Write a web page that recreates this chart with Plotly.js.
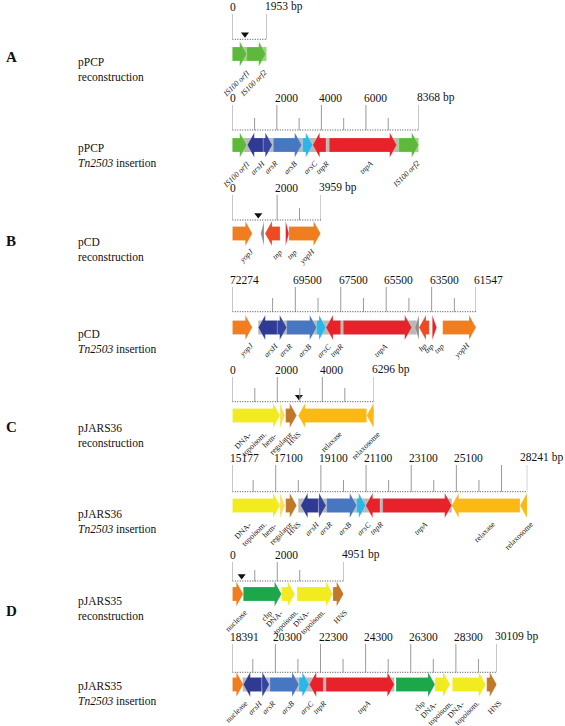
<!DOCTYPE html>
<html><head><meta charset="utf-8">
<script src="https://cdn.plot.ly/plotly-3.0.1.min.js"></script>
<style>html,body{margin:0;padding:0;background:#fff}</style>
</head><body><div id="chart" style="width:565px;height:726px"></div>
<script>
// ================= DATA =================
// Each gene: start -> end (arrow head at end), in bp of its own map.
// --- A: pPCP reconstruction ---
const pPCPrecNames  = ['IS100 orf1','IS100 orf2'];
const pPCPrecLabels = ['IS100 orf1','IS100 orf2'];
const pPCPrecStart  = [0, 820];
const pPCPrecEnd    = [820, 1900];
const pPCPrecBgStart = [0]; const pPCPrecBgEnd = [1953]; const pPCPrecBgKind = ['is'];
const pPCPrecTicks = [0, 1953]; const pPCPrecTickLabels = ['0', '1953 bp']; const pPCPrecMinor = [];
const pPCPrecInsert = [720];
// --- A: pPCP Tn2503 insertion ---
const pPCPinsNames  = ['IS100 orf1','arsH','arsR','arsB','arsC','tnpR','tnpA','IS100 orf2'];
const pPCPinsLabels = ['IS100 orf1','arsH','arsR','arsB','arsC','tnpR','tnpA','IS100 orf2'];
const pPCPinsStart  = [0, 1391, 1391, 1840, 3160, 4205, 4355, 7480];
const pPCPinsEnd    = [650, 673, 1795, 3115, 3610, 3610, 7380, 8368];
const pPCPinsBgStart = [0, 580, 7440]; const pPCPinsBgEnd = [660, 7525, 8368]; const pPCPinsBgKind = ['is','tn','is'];
const pPCPinsTicks = [0, 2000, 4000, 6000, 8368]; const pPCPinsTickLabels = ['0','2000','4000','6000','8368 bp'];
const pPCPinsMinor = [1000, 3000, 5000, 7000];
const pPCPinsInsert = [];
// --- B: pCD reconstruction ---
const pCDrecNames  = ['yopJ','hp','tnp','tnp','yopH'];
const pCDrecLabels = ['yopJ','','tnp','tnp','yopH'];
const pCDrecStart  = [0, 1415, 2130, 2380, 2530];
const pCDrecEnd    = [893, 1270, 1460, 2530, 3940];
const pCDrecBgStart = []; const pCDrecBgEnd = []; const pCDrecBgKind = [];
const pCDrecTicks = [0, 2000, 3959]; const pCDrecTickLabels = ['0','2000','3959 bp']; const pCDrecMinor = [3000];
const pCDrecInsert = [1160];
// --- B: pCD Tn2503 insertion (coordinates run downwards) ---
const pCDinsNames  = ['yopJ','arsH','arsR','arsB','arsC','tnpR','tnpA','hp','tnp','tnp','yopH'];
const pCDinsLabels = ['yopJ','arsH','arsR','arsB','arsC','tnpR','tnpA','hp','tnp','tnp','yopH'];
const pCDinsStart  = [72274, 70293, 70293, 69880, 68560, 67503, 67388, 64057, 63604, 63471, 63014];
const pCDinsEnd    = [71394, 71130, 69880, 68560, 68150, 68150, 64378, 64233, 64057, 63278, 61547];
const pCDinsBgStart = [71130]; const pCDinsBgEnd = [64158]; const pCDinsBgKind = ['tn'];
const pCDinsTicks = [72274, 69500, 67500, 65500, 63500, 61547];
const pCDinsTickLabels = ['72274','69500','67500','65500','63500','61547'];
const pCDinsMinor = [70500, 68500, 66500, 64500, 62500];
const pCDinsInsert = [];
// --- C: pJARS36 reconstruction ---
const pJ36recNames  = ['DNA-topoisom.','hem-regulator','HNS','relaxase','relaxosome'];
const pJ36recLabels = ['DNA-<br>topoisom.','hem-<br>regulator','HNS','relaxase','relaxosome'];
const pJ36recStart  = [0, 2120, 2370, 5970, 6296];
const pJ36recEnd    = [2120, 2340, 2860, 2930, 5970];
const pJ36recBgStart = []; const pJ36recBgEnd = []; const pJ36recBgKind = [];
const pJ36recTicks = [0, 2000, 4000, 6296]; const pJ36recTickLabels = ['0','2000','4000','6296 bp'];
const pJ36recMinor = [1000, 3000, 5000];
const pJ36recInsert = [2960];
// --- C: pJARS36 Tn2503 insertion ---
const pJ36insNames  = ['DNA-topoisom.','hem-regulator','HNS','arsH','arsR','arsB','arsC','tnpR','tnpA','relaxase','relaxosome'];
const pJ36insLabels = ['DNA-<br>topoisom.','hem-<br>regulator','HNS','arsH','arsR','arsB','arsC','tnpR','tnpA','relaxase','relaxosome'];
const pJ36insStart  = [15177, 17290, 17542, 18986, 18986, 19357, 20686, 21718, 21838, 27918, 28241];
const pJ36insEnd    = [17290, 17511, 18029, 18206, 19327, 20686, 21085, 21085, 24894, 24894, 27918];
const pJ36insBgStart = [18100]; const pJ36insBgEnd = [24894]; const pJ36insBgKind = ['tn'];
const pJ36insTicks = [15177, 17100, 19100, 21100, 23100, 25100, 27100, 28241];
const pJ36insTickLabels = ['15177','17100','19100','21100','23100','25100','','28241 bp'];
const pJ36insMinor = [16100, 18100, 20100, 22100, 24100, 26100];
const pJ36insInsert = [];
// --- D: pJARS35 reconstruction ---
const pJ35recNames  = ['nuclease','chp','DNA-topoisom.','DNA-topoisom.','HNS'];
const pJ35recLabels = ['nuclease','chp','DNA-<br>topoisom.','DNA-<br>topoisom.','HNS'];
const pJ35recStart  = [0, 488, 2190, 2880, 4477];
const pJ35recEnd    = [488, 2190, 2780, 4477, 4951];
const pJ35recBgStart = []; const pJ35recBgEnd = []; const pJ35recBgKind = [];
const pJ35recTicks = [0, 2000, 4951]; const pJ35recTickLabels = ['0','2000','4951 bp']; const pJ35recMinor = [1000, 3000];
const pJ35recInsert = [417];
// --- D: pJARS35 Tn2503 insertion ---
const pJ35insNames  = ['nuclease','arsH','arsR','arsB','arsC','tnpR','tnpA','chp','DNA-topoisom.','DNA-topoisom.','HNS'];
const pJ35insLabels = ['nuclease','arsH','arsR','arsB','arsC','tnpR','tnpA','chp','DNA-<br>topoisom.','DNA-<br>topoisom.','HNS'];
const pJ35insStart  = [18391, 19694, 19694, 20062, 21348, 22425, 22545, 25647, 27376, 28143, 29667];
const pJ35insEnd    = [18879, 18879, 20031, 21348, 21804, 21804, 25572, 27376, 28041, 29623, 30109];
const pJ35insBgStart = [18852]; const pJ35insBgEnd = [25572]; const pJ35insBgKind = ['tn'];
const pJ35insTicks = [18391, 20300, 22300, 24300, 26300, 28300, 30109];
const pJ35insTickLabels = ['18391','20300','22300','24300','26300','28300','30109 bp'];
const pJ35insMinor = [19300, 21300, 23300, 25300, 27300, 29300];
const pJ35insInsert = [];

const panelLetters = ['A','B','C','D'];
const trackTitles = ['pPCP<br>reconstruction','pPCP<br><i>Tn2503</i> insertion',
  'pCD<br>reconstruction','pCD<br><i>Tn2503</i> insertion',
  'pJARS36<br>reconstruction','pJARS36<br><i>Tn2503</i> insertion',
  'pJARS35<br>reconstruction','pJARS35<br><i>Tn2503</i> insertion'];

// ================= LAYOUT / STYLE =================
const W = 565, H = 726;
const FONTNAME = 'Liberation Serif';
const SERIF = '"Liberation Serif","Times New Roman",serif';
const tracks = [
  {names:pPCPrecNames,labels:pPCPrecLabels,start:pPCPrecStart,end:pPCPrecEnd,bgS:pPCPrecBgStart,bgE:pPCPrecBgEnd,bgK:pPCPrecBgKind,ticks:pPCPrecTicks,tl:pPCPrecTickLabels,minor:pPCPrecMinor,ins:pPCPrecInsert,
   range:[0,1953], px:[232.3,266.7], top:14, mtop:null, base:39.3, gc:54, ty:69},
  {names:pPCPinsNames,labels:pPCPinsLabels,start:pPCPinsStart,end:pPCPinsEnd,bgS:pPCPinsBgStart,bgE:pPCPinsBgEnd,bgK:pPCPinsBgKind,ticks:pPCPinsTicks,tl:pPCPinsTickLabels,minor:pPCPinsMinor,ins:pPCPinsInsert,
   range:[0,8368], px:[232.3,418.7], top:105, mtop:118, base:130, gc:145, ty:155},
  {names:pCDrecNames,labels:pCDrecLabels,start:pCDrecStart,end:pCDrecEnd,bgS:pCDrecBgStart,bgE:pCDrecBgEnd,bgK:pCDrecBgKind,ticks:pCDrecTicks,tl:pCDrecTickLabels,minor:pCDrecMinor,ins:pCDrecInsert,
   range:[0,3959], px:[232.3,321], top:195, mtop:208, base:220, gc:233.5, ty:249},
  {names:pCDinsNames,labels:pCDinsLabels,start:pCDinsStart,end:pCDinsEnd,bgS:pCDinsBgStart,bgE:pCDinsBgEnd,bgK:pCDinsBgKind,ticks:pCDinsTicks,tl:pCDinsTickLabels,minor:pCDinsMinor,ins:pCDinsInsert,
   range:[72274,61547], px:[232.3,476], top:287, mtop:298, base:311.7, gc:327.5, ty:341},
  {names:pJ36recNames,labels:pJ36recLabels,start:pJ36recStart,end:pJ36recEnd,bgS:pJ36recBgStart,bgE:pJ36recBgEnd,bgK:pJ36recBgKind,ticks:pJ36recTicks,tl:pJ36recTickLabels,minor:pJ36recMinor,ins:pJ36recInsert,
   range:[0,6296], px:[232.3,374], top:377, mtop:388, base:401.7, gc:415.5, ty:435},
  {names:pJ36insNames,labels:pJ36insLabels,start:pJ36insStart,end:pJ36insEnd,bgS:pJ36insBgStart,bgE:pJ36insBgEnd,bgK:pJ36insBgKind,ticks:pJ36insTicks,tl:pJ36insTickLabels,minor:pJ36insMinor,ins:pJ36insInsert,
   range:[15177,28241], px:[232.3,527.3], top:465, mtop:480, base:491.7, gc:505.5, ty:521},
  {names:pJ35recNames,labels:pJ35recLabels,start:pJ35recStart,end:pJ35recEnd,bgS:pJ35recBgStart,bgE:pJ35recBgEnd,bgK:pJ35recBgKind,ticks:pJ35recTicks,tl:pJ35recTickLabels,minor:pJ35recMinor,ins:pJ35recInsert,
   range:[0,4951], px:[232.3,343.6], top:562, mtop:570, base:581, gc:594, ty:608},
  {names:pJ35insNames,labels:pJ35insLabels,start:pJ35insStart,end:pJ35insEnd,bgS:pJ35insBgStart,bgE:pJ35insBgEnd,bgK:pJ35insBgKind,ticks:pJ35insTicks,tl:pJ35insTickLabels,minor:pJ35insMinor,ins:pJ35insInsert,
   range:[18391,30109], px:[232.3,496.7], top:644, mtop:659, base:672.3, gc:684.5, ty:693}
];
const letterY = [57, 241, 427, 611];

function geneColor(name, dir) {
  const m = {'IS100 orf1':'#5DB83B','IS100 orf2':'#5DB83B','arsH':'#2F3B93','arsR':'#33459E','arsB':'#4677C0',
    'arsC':'#2AB6E9','tnpR':'#E8222B','tnpA':'#E8222B','yopJ':'#F07E1F','yopH':'#F07E1F','nuclease':'#F07E1F',
    'hp':'#8E8E8E','DNA-topoisom.':'#F2EB1F','hem-regulator':'#F6E25A','HNS':'#C0792A','relaxase':'#FDB913',
    'relaxosome':'#FDB913','chp':'#1CA74B'};
  if (name === 'tnp') return dir < 0 ? '#EC4B24' : '#E8222B';
  return m[name] || '#999';
}
const BH = 7, HH = 12.5, HEADPX = 7;
const LAB_FS = 7.8, LAB_LH = 1.25 * LAB_FS, TICK_FS = 11.5;

const cvs = document.createElement('canvas').getContext('2d');
function textW(str, italic, fs) {
  cvs.font = (italic ? 'italic ' : '') + fs + 'px "' + FONTNAME + '"';
  return cvs.measureText(str).width;
}

const data = [], shapes = [], annotations = [];
const layout = {width:W, height:H, margin:{l:0,r:0,t:0,b:0}, paper_bgcolor:'#fff', plot_bgcolor:'rgba(0,0,0,0)',
  showlegend:false, yaxis:{domain:[0,1], range:[H,0], visible:false, fixedrange:true}};

const C45 = Math.SQRT1_2;
tracks.forEach((t, k) => {
  const xid = k === 0 ? 'x' : 'x' + (k + 1);
  const key = k === 0 ? 'xaxis' : 'xaxis' + (k + 1);
  layout[key] = {domain:[t.px[0]/W, t.px[1]/W], range:t.range, visible:false, fixedrange:true, anchor:'y'};
  const span = Math.abs(t.range[1] - t.range[0]);
  const pxPerBp = (t.px[1] - t.px[0]) / span;
  const headBp = HEADPX / pxPerBp;
  const ax = (t.range[1] > t.range[0]) ? 1 : -1;

  t.bgS.forEach((a, i) => {
    const b = t.bgE[i];
    data.push({type:'scatter', mode:'lines', xaxis:xid, yaxis:'y', x:[a,b,b,a,a],
      y:[t.gc-BH,t.gc-BH,t.gc+BH,t.gc+BH,t.gc-BH], fill:'toself',
      fillcolor: t.bgK[i] === 'is' ? '#9CD380' : '#B9B9B9', line:{width:0}, hoverinfo:'skip'});
  });
  t.names.forEach((n, i) => {
    const s = t.start[i], e = t.end[i];
    const sg = Math.sign(e - s);
    const h = Math.min(headBp, Math.abs(e - s));
    const hb = e - sg * h;
    const xs = [s, hb, hb, e, hb, hb, s, s];
    const ys = [t.gc-BH, t.gc-BH, t.gc-HH, t.gc, t.gc+HH, t.gc+BH, t.gc+BH, t.gc-BH];
    const dir = sg * ax;
    data.push({type:'scatter', mode:'lines', xaxis:xid, yaxis:'y', x:xs, y:ys, fill:'toself',
      fillcolor:geneColor(n, dir), line:{width:0.4, color:'rgba(255,255,255,0.5)'}, hoverinfo:'skip'});
    const lab = t.labels[i];
    if (lab) {
      const it = /^(ars|tnp|yop|IS100|hp)/.test(n);
      const lines = lab.split('<br>');
      const w = Math.max(...lines.map(l => textW(l, it, LAB_FS)));
      const hgt = lines.length * LAB_LH;
      const px = w / 2, py = -hgt / 2 + (lines.length - 1) * LAB_LH;
      const rx = C45 * (px + py), ry = C45 * (-px + py);
      const dx = 5 - rx, dy = 1.5 - ry;
      annotations.push({xref:xid, yref:'y', x:(s+e)/2, y:t.gc+HH, xanchor:'center', yanchor:'middle',
        xshift:dx, yshift:-dy, textangle:-45, showarrow:false, align:'left', borderpad:0,
        text: it ? '<i>'+lab+'</i>' : lab, font:{family:SERIF, size:LAB_FS, color:'#111'}});
    }
  });
  t.ticks.forEach((v, i) => {
    shapes.push({type:'line', xref:xid, yref:'y', x0:v, x1:v, y0:t.top, y1:t.base, line:{color:'#9a9a9a', width:1}});
    if (t.tl[i]) {
      const vx = t.px[0] + Math.abs(v - t.range[0]) * pxPerBp;
      const tw = textW(t.tl[i], false, TICK_FS);
      let sh = -3;
      if (vx + sh + tw > W - 3) sh = W - 3 - tw - vx;
      annotations.push({xref:xid, yref:'y', x:v, y:t.top-7.5, xanchor:'left', yanchor:'middle', xshift:sh,
        showarrow:false, text:t.tl[i], borderpad:0, font:{family:SERIF, size:TICK_FS, color:'#111'}});
    }
  });
  t.minor.forEach(v => {
    shapes.push({type:'line', xref:xid, yref:'y', x0:v, x1:v, y0:t.mtop, y1:t.base, line:{color:'#9a9a9a', width:1}});
  });
  shapes.push({type:'line', xref:xid, yref:'y', x0:t.range[0], x1:t.range[1], y0:t.base, y1:t.base,
    line:{color:'#444', width:1, dash:'1px,1.5px'}});
  if (t.ins.length) data.push({type:'scatter', mode:'markers', xaxis:xid, yaxis:'y', x:t.ins,
    y:t.ins.map(() => t.base-5), marker:{symbol:'triangle-down', size:7, color:'#111'}, hoverinfo:'skip'});
  annotations.push({xref:'paper', yref:'y', x:76/W, y:t.ty, xanchor:'left', yanchor:'middle', align:'left',
    showarrow:false, text:trackTitles[k], font:{family:SERIF, size:11.5, color:'#111'}});
});
panelLetters.forEach((L, i) => {
  annotations.push({xref:'paper', yref:'y', x:4/W, y:letterY[i], xanchor:'left', yanchor:'middle',
    showarrow:false, text:'<b>'+L+'</b>', font:{family:SERIF, size:15, color:'#111'}});
});
layout.shapes = shapes; layout.annotations = annotations;
Plotly.newPlot('chart', data, layout, {staticPlot:true, displayModeBar:false});
</script></body></html>
